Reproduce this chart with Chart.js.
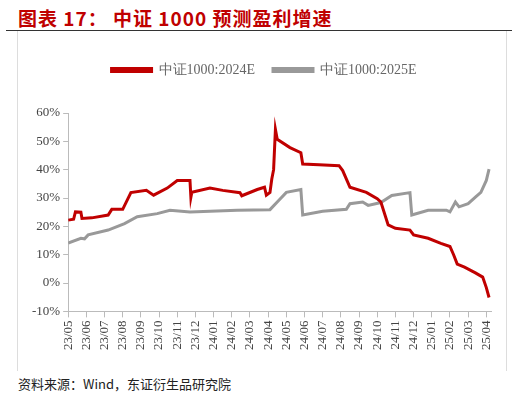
<!DOCTYPE html>
<html><head><meta charset="utf-8">
<script src="https://cdn.jsdelivr.net/npm/chart.js@4"></script>
<style>
body{margin:0;width:522px;height:400px;background:#fff;position:relative;overflow:hidden;font-family:"Noto Sans CJK SC",sans-serif}
#title{position:absolute;left:18px;top:4px;font-size:19px;font-weight:bold;color:#C00000;letter-spacing:1px;font-family:"Noto Sans CJK SC","Liberation Serif",serif}
#rule{position:absolute;left:6px;top:30px;width:506px;height:1px;background:#333}
#box{position:absolute;left:17px;top:31px;width:488px;height:340px;border-left:1px solid #ddd;border-right:1px solid #ddd}
#src{position:absolute;left:18px;top:374px;font-size:13px;color:#222}
#wrap{position:absolute;left:17px;top:45px;width:488px;height:308px}
</style></head><body>
<div id="title">图表 17：  中证 1000  预测盈利增速</div>
<div id="rule"></div><div id="box"></div>
<div id="wrap"><canvas id="c"></canvas></div>
<div id="src">资料来源：Wind，东证衍生品研究院</div>
<script>
const monthLabels=["23/05","23/06","23/07","23/08","23/09","23/10","23/11","23/12","24/01","24/02","24/03","24/04","24/05","24/06","24/07","24/08","24/09","24/10","24/11","24/12","25/01","25/02","25/03","25/04"];
const redX=[0,0.3,0.4,0.7,0.76,1.3,2.2,2.4,3,3.45,4.3,4.7,5.45,6,6.7,6.75,6.8,7.8,8.5,9.45,9.55,10.4,10.8,10.9,11.1,11.2,11.3,11.4,11.5,12.2,12.8,12.9,13.8,14.9,15.1,15.5,16.4,17,17.2,17.6,18,18.8,19,19.8,20.5,21,21.2,21.4,21.8,22.4,22.8,23,23.15];
const redY=[22.2,22.5,25.1,25,22.8,23,24,26,26,31.9,32.7,31,33.5,36.2,36.2,30.3,32,33.5,32.7,31.9,30.8,33,33.8,31,32,36.7,40,54.2,50.7,47.8,46,42,41.7,41.4,39.7,33.8,32,29.8,28.6,20.5,19.3,18.7,17,15.8,14,12.9,10,6.7,5.6,3.6,2.1,-1.6,-5.1];
const grayX=[0,0.7,0.9,1.1,2.2,3.1,3.8,4.9,5.6,6.7,9.3,11.1,11.5,12,12.8,12.9,14,15.3,15.5,16.2,16.5,17.2,17.8,18.8,18.9,19.8,20.8,21,21.3,21.5,22,22.4,22.7,23,23.15];
const grayY=[14.1,15.8,15.6,17,18.7,21,23.4,24.5,25.7,25.1,25.7,25.9,28.6,32,33,24,25.3,26,28,28.6,27.4,28.4,30.9,31.9,24,25.7,25.7,25.1,28.6,26.9,28,30.3,32,36.2,40.2];
const pts=(xs,ys)=>xs.map((x,i)=>({x,y:ys[i]}));
const serif='"Liberation Serif",serif';
const legendGap={id:'legendGap',beforeInit(chart){const f=chart.legend.fit;chart.legend.fit=function(){f.bind(chart.legend)();this.height+=26;};}};
new Chart(document.getElementById('c'),{type:'line',plugins:[legendGap],
data:{datasets:[
{label:'中证1000:2024E',data:pts(redX,redY),borderColor:'#C00000',backgroundColor:'#C00000',borderWidth:3,pointRadius:0,tension:0},
{label:'中证1000:2025E',data:pts(grayX,grayY),borderColor:'#999999',backgroundColor:'#999999',borderWidth:3,pointRadius:0,tension:0}]},
options:{animation:false,responsive:true,maintainAspectRatio:false,
layout:{padding:{left:12,right:6,top:0,bottom:0}},
plugins:{legend:{position:'top',labels:{boxWidth:40,boxHeight:3,padding:18,color:'#666',font:{family:serif,size:14}}},tooltip:{enabled:false}},
scales:{
x:{type:'linear',min:0,max:23.3,grid:{display:true,drawOnChartArea:false,tickLength:6,color:'#bbb'},border:{color:'#bbb'},
 afterBuildTicks:a=>{a.ticks=monthLabels.map((_,i)=>({value:i}));},
 ticks:{autoSkip:false,maxRotation:90,minRotation:90,color:'#444',font:{family:serif,size:13},callback:(v)=>monthLabels[Math.round(v)]||''}},
y:{min:-10,max:60,grid:{display:true,drawOnChartArea:false,tickLength:5,color:'#bbb'},border:{color:'#bbb'},
 ticks:{stepSize:10,color:'#444',font:{family:serif,size:13},callback:v=>v+'%'}}}}});
</script></body></html>
